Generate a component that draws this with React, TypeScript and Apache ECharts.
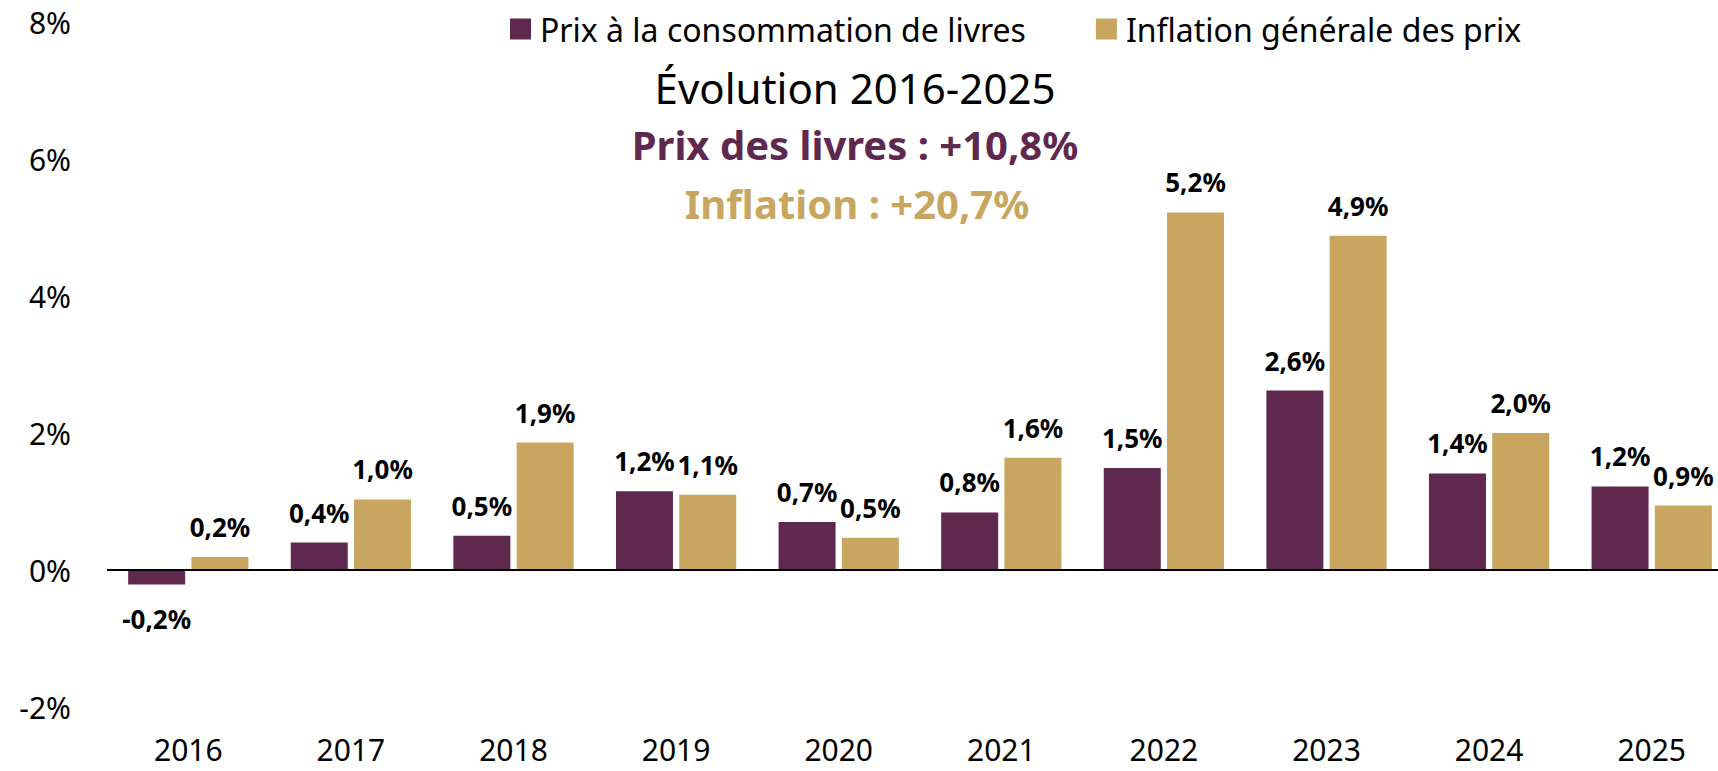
import React, { useEffect, useRef } from "react";
import * as echarts from "echarts";

const categories = ["2016", "2017", "2018", "2019", "2020", "2021", "2022", "2023", "2024", "2025"];
const bookPrices = [-0.21, 0.4, 0.5, 1.15, 0.7, 0.84, 1.49, 2.62, 1.41, 1.22];
const inflation = [0.19, 1.03, 1.86, 1.1, 0.47, 1.64, 5.22, 4.88, 2.0, 0.94];
const seriesNames = ["Prix à la consommation de livres", "Inflation générale des prix"];
const titleLines = ["Évolution 2016-2025", "Prix des livres : +10,8%", "Inflation : +20,7%"];
const yTicks = { min: -2, max: 8, interval: 2 };

const PURPLE = "#5E284F";
const GOLD = "#C8A660";
const FONT = "'Noto Sans', 'Open Sans', sans-serif";

const fmt = (v: number) => {
  const r = Math.round(Math.abs(v) * 10 + 1e-9) / 10;
  return (v < 0 ? "-" : "") + r.toFixed(1).replace(".", ",") + "%";
};

const toData = (arr: number[]) =>
  arr.map((v) => ({
    value: v,
    label: v < 0 ? { position: "bottom", distance: 22 } : { position: "top", distance: 17 },
  }));

export default function App() {
  const ref = useRef<HTMLDivElement>(null);
  useEffect(() => {
    document.body.style.margin = "0";
    document.body.style.overflow = "hidden";
    const chart = echarts.init(ref.current!, undefined, { renderer: "svg" });
    const labelCommon = {
      show: true,
      fontFamily: FONT,
      fontWeight: "bold" as const,
      fontSize: 26,
      color: "#000",
      formatter: (p: any) => fmt(p.value),
    };
    chart.setOption({
      animation: false,
      backgroundColor: "#fff",
      textStyle: { fontFamily: FONT },
      legend: {
        left: 505,
        top: 8,
        itemWidth: 21,
        itemHeight: 21,
        itemGap: 70,
        icon: "rect",
        textStyle: { fontFamily: FONT, fontSize: 32, color: "#000", padding: [0, 0, 0, 4] },
        data: seriesNames,
      },
      title: [
        {
          text: titleLines[0],
          left: 850,
          top: 61,
          textAlign: "center",
          textStyle: { fontFamily: FONT, fontSize: 42, fontWeight: "normal", color: "#000" },
        },
        {
          text: titleLines[1],
          left: 850,
          top: 119,
          textAlign: "center",
          textStyle: { fontFamily: FONT, fontSize: 40, fontWeight: "bold", color: PURPLE },
        },
        {
          text: titleLines[2],
          left: 852,
          top: 178,
          textAlign: "center",
          textStyle: { fontFamily: FONT, fontSize: 40, fontWeight: "bold", color: GOLD },
        },
      ],
      grid: { left: 107, right: 12, top: 22, bottom: 64, containLabel: false },
      xAxis: {
        type: "category",
        data: categories,
        axisLine: { show: false, onZero: false },
        axisTick: { show: false },
        axisLabel: { fontFamily: FONT, fontSize: 30, color: "#000", margin: 27 },
      },
      yAxis: {
        type: "value",
        min: yTicks.min,
        max: yTicks.max,
        interval: yTicks.interval,
        splitLine: { show: false },
        axisLine: { show: false },
        axisTick: { show: false },
        axisLabel: {
          fontFamily: FONT,
          fontSize: 30,
          color: "#000",
          margin: 36,
          formatter: (v: number) => `${v}%`,
        },
      },
      series: [
        {
          name: seriesNames[0],
          type: "bar",
          data: toData(bookPrices),
          barWidth: 57,
          barGap: "11%",
          itemStyle: { color: PURPLE },
          label: labelCommon,
          markLine: {
            silent: true,
            symbol: "none",
            label: { show: false },
            lineStyle: { color: "#000", width: 2, type: "solid" },
            data: [{ yAxis: 0 }],
          },
        },
        {
          name: seriesNames[1],
          type: "bar",
          data: toData(inflation),
          barWidth: 57,
          itemStyle: { color: GOLD },
          label: labelCommon,
        },
      ],
    });
    return () => chart.dispose();
  }, []);
  return (
    <div style={{ position: "fixed", left: 0, top: 0, width: 1718, height: 771, overflow: "hidden", background: "#fff" }}>
      <div ref={ref} style={{ width: 1745, height: 771 }} />
    </div>
  );
}
